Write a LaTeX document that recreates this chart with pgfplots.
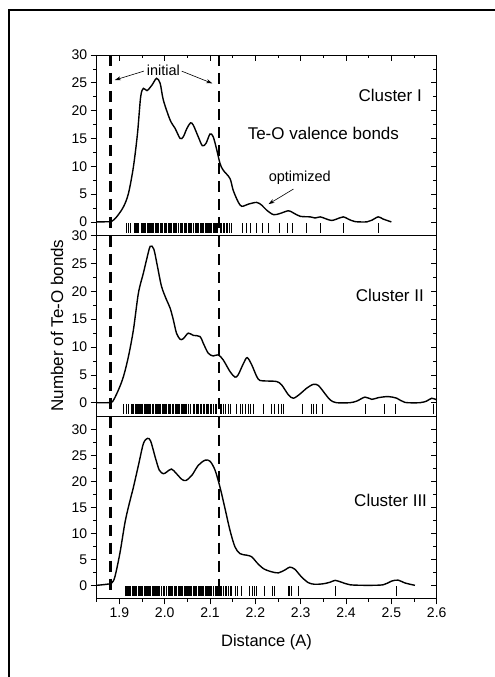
\documentclass[border=0pt]{standalone}
\usepackage{fontspec}
\setmainfont{Liberation Sans}
\usepackage{pgfplots}
\pgfplotsset{compat=1.18}
\usetikzlibrary{arrows.meta}
\begin{document}
\begin{tikzpicture}
\useasboundingbox (0pt,0pt) rectangle (495pt,677pt);
\draw[line width=1.5pt] (9pt,0pt) -- (9pt,667pt) -- (495pt,667pt);
\tikzset{
  ann/.style={font=\fontsize{14.5}{16}\selectfont, inner sep=0pt},
  clab/.style={font=\fontsize{17}{19}\selectfont, inner sep=0pt},
  arr/.style={-{Stealth[length=6pt,width=4pt]}, line width=0.6pt}
}
\pgfplotsset{
  panel/.style={scale only axis, width=340pt, xmin=1.85, xmax=2.6, anchor=north west,
    axis line style={line width=0.9pt}, clip=false,
    /pgf/number format/assume math mode=true,
    ticklabel style={font=\fontsize{14}{16}\selectfont},
    ytick={0,5,...,30}, minor ytick={2.5,7.5,12.5,17.5,22.5,27.5},
    every tick/.style={black, line width=0.7pt},
    major tick length=6pt, minor tick length=3.5pt},
  mainax/.style={panel, ytick pos=left, tick align=outside},
  overax/.style={panel, ytick pos=right, tick align=inside, yticklabels={}},
  curve/.style={black, line width=1.4pt, smooth, tension=0.5, mark=none},
  rug/.style={only marks, mark=|, mark size=5pt, mark options={line width=0.9pt, black}},
  dline/.style={black, line width=2.4pt, dash pattern=on 11pt off 7pt}
}
% ---------------- Panel 1
\begin{axis}[mainax, at={(96.7pt,622pt)}, height=180.8pt, ymin=-2.5, ymax=30, xtick=\empty]
\addplot[dline] coordinates {(1.88,30) (1.88,-2.5)};
\addplot[dline] coordinates {(2.12,30) (2.12,-2.5)};
\addplot[curve] coordinates {(1.85,0) (1.87,0.02) (1.883,0.1) (1.894,0.9) (1.909,2.7) (1.92,5.1) (1.931,9.9) (1.94,15.9) (1.947,22.5) (1.953,24.0) (1.961,23.6) (1.972,24.6) (1.982,25.8) (1.99,24.9) (1.997,21.9) (2.012,18.3) (2.023,16.8) (2.034,15.0) (2.041,15.3) (2.049,16.8) (2.057,17.8) (2.063,17.4) (2.074,15.3) (2.083,13.7) (2.091,14.1) (2.1,15.8) (2.107,15.3) (2.115,12.9) (2.122,10.5) (2.129,9.3) (2.144,7.8) (2.151,5.7) (2.162,3.6) (2.17,2.8) (2.185,3.2) (2.203,3.5) (2.214,3.0) (2.225,2.1) (2.24,1.3) (2.254,1.5) (2.273,2.0) (2.284,1.6) (2.299,1.0) (2.321,0.9) (2.332,0.7) (2.343,0.9) (2.354,0.6) (2.368,0.25) (2.379,0.5) (2.394,0.9) (2.405,0.5) (2.42,0.05) (2.446,0) (2.457,0.3) (2.471,0.9) (2.482,0.5) (2.5,0)};
\addplot[rug] coordinates {(1.9146,-1.15) (1.9197,-1.15) (1.925,-1.15)
(1.9323,-1.15) (1.9345,-1.15) (1.937,-1.15) (1.9395,-1.15) (1.9418,-1.15)
(1.9493,-1.15) (1.9515,-1.15) (1.954,-1.15) (1.9562,-1.15) (1.9585,-1.15) (1.961,-1.15) (1.9632,-1.15) (1.9655,-1.15) (1.968,-1.15) (1.9703,-1.15) (1.9728,-1.15) (1.975,-1.15)
(1.9786,-1.15) (1.981,-1.15) (1.9835,-1.15) (1.986,-1.15) (1.9896,-1.15)
(1.9934,-1.15) (1.996,-1.15) (1.9985,-1.15) (2.0007,-1.15) (2.0044,-1.15)
(2.008,-1.15) (2.0105,-1.15) (2.013,-1.15) (2.0155,-1.15)
(2.019,-1.15) (2.0215,-1.15) (2.024,-1.15) (2.0265,-1.15) (2.03,-1.15) (2.0338,-1.15)
(2.0375,-1.15) (2.04,-1.15) (2.0425,-1.15) (2.045,-1.15) (2.0485,-1.15)
(2.052,-1.15) (2.0545,-1.15) (2.057,-1.15) (2.06,-1.15) (2.063,-1.15)
(2.0668,-1.15) (2.069,-1.15) (2.0715,-1.15) (2.074,-1.15) (2.0779,-1.15)
(2.0816,-1.15) (2.084,-1.15) (2.0865,-1.15) (2.089,-1.15) (2.0915,-1.15) (2.094,-1.15) (2.0965,-1.15) (2.099,-1.15) (2.1015,-1.15) (2.104,-1.15) (2.1065,-1.15) (2.109,-1.15) (2.111,-1.15)
(2.1147,-1.15) (2.117,-1.15) (2.122,-1.15)
(2.1258,-1.15) (2.129,-1.15) (2.132,-1.15) (2.136,-1.15) (2.139,-1.15) (2.143,-1.15) (2.1478,-1.15)
(2.172,-1.15) (2.181,-1.15) (2.19,-1.15) (2.203,-1.15) (2.215,-1.15) (2.229,-1.15) (2.254,-1.15) (2.271,-1.15) (2.282,-1.15) (2.313,-1.15) (2.343,-1.15) (2.394,-1.15) (2.471,-1.15)};
\node[clab, anchor=base east] at (axis cs:2.5676,21.7) {Cluster I};
\node[clab, anchor=base] at (axis cs:2.35,14.8) {Te-O valence bonds};
\node[ann, anchor=base] at (axis cs:1.997,26.3) {initial};
\draw[arr] (axis cs:1.954,27.1) -- (axis cs:1.890,25.5);
\draw[arr] (axis cs:2.0375,27.1) -- (axis cs:2.105,24.9);
\node[ann, anchor=base] at (axis cs:2.298,7.3) {optimized};
\draw[arr] (axis cs:2.284,5.9) -- (axis cs:2.229,3.2);
\end{axis}
\begin{axis}[overax, at={(96.7pt,622pt)}, height=180.8pt, ymin=-2.5, ymax=30,
  xtick pos=right, xtick={1.9,2.0,2.1,2.2,2.3,2.4,2.5,2.6}, minor xtick={1.85,1.95,2.05,2.15,2.25,2.35,2.45,2.55}, xticklabels={}]
\end{axis}
% ---------------- Panel 2
\begin{axis}[mainax, at={(96.7pt,441.2pt)}, height=180.8pt, ymin=-2.5, ymax=30, xtick=\empty]
\addplot[dline] coordinates {(1.88,30) (1.88,-2.5)};
\addplot[dline] coordinates {(2.12,30) (2.12,-2.5)};
\addplot[curve] coordinates {(1.85,0) (1.875,0) (1.885,0.2) (1.898,2.3) (1.909,4.7) (1.92,8.3) (1.931,13.1) (1.942,19.7) (1.953,23.3) (1.96,25.7) (1.968,28.1) (1.976,27.6) (1.984,24.5) (1.993,20.9) (2.004,18.5) (2.012,17.0) (2.019,14.9) (2.026,12.5) (2.034,11.4) (2.041,11.5) (2.052,12.5) (2.063,12.1) (2.078,11.9) (2.085,10.7) (2.096,8.9) (2.107,8.4) (2.118,8.6) (2.129,7.7) (2.144,5.6) (2.155,4.6) (2.162,5.0) (2.174,7.1) (2.182,8.1) (2.192,6.8) (2.203,4.7) (2.21,4.0) (2.225,3.9) (2.247,3.8) (2.258,3.2) (2.273,1.4) (2.284,0.8) (2.299,1.6) (2.313,2.6) (2.328,3.3) (2.339,3.1) (2.35,2.0) (2.365,0.5) (2.379,0) (2.409,0) (2.424,0.3) (2.442,1.0) (2.457,0.6) (2.471,0.9) (2.493,1.1) (2.512,0.8) (2.53,0.05) (2.563,0) (2.578,0.3) (2.589,0.8) (2.6,0.5)};
\addplot[rug] coordinates {(1.910,-1.1) (1.915,-1.1) (1.920,-1.1)
(1.927,-1.1) (1.9295,-1.1) (1.932,-1.1) (1.9345,-1.1) (1.937,-1.1) (1.9395,-1.1) (1.942,-1.1) (1.9445,-1.1) (1.947,-1.1) (1.9495,-1.1) (1.952,-1.1) (1.9545,-1.1) (1.957,-1.1) (1.9595,-1.1) (1.962,-1.1) (1.9645,-1.1) (1.967,-1.1) (1.9695,-1.1) (1.972,-1.1) (1.975,-1.1)
(1.979,-1.1) (1.9815,-1.1) (1.984,-1.1) (1.9865,-1.1) (1.989,-1.1) (1.9915,-1.1) (1.994,-1.1) (1.9965,-1.1) (1.999,-1.1) (2.0015,-1.1) (2.004,-1.1)
(2.008,-1.1) (2.0105,-1.1) (2.013,-1.1) (2.016,-1.1) (2.019,-1.1) (2.023,-1.1)
(2.026,-1.1) (2.0285,-1.1) (2.031,-1.1) (2.0335,-1.1) (2.036,-1.1) (2.0385,-1.1) (2.041,-1.1) (2.0435,-1.1) (2.046,-1.1) (2.049,-1.1)
(2.052,-1.1) (2.057,-1.1)
(2.063,-1.1) (2.066,-1.1) (2.069,-1.1) (2.072,-1.1) (2.075,-1.1) (2.078,-1.1)
(2.082,-1.1) (2.085,-1.1) (2.088,-1.1) (2.091,-1.1) (2.094,-1.1) (2.097,-1.1) (2.1,-1.1)
(2.104,-1.1) (2.108,-1.1) (2.111,-1.1) (2.115,-1.1)
(2.122,-1.1) (2.125,-1.1) (2.129,-1.1) (2.133,-1.1) (2.14,-1.1) (2.144,-1.1) (2.159,-1.1)
(2.166,-1.1) (2.172,-1.1) (2.178,-1.1) (2.184,-1.1) (2.19,-1.1) (2.196,-1.1)
(2.218,-1.1) (2.236,-1.1) (2.243,-1.1) (2.251,-1.1) (2.258,-1.1) (2.262,-1.1) (2.304,-1.1) (2.324,-1.1) (2.329,-1.1) (2.334,-1.1) (2.349,-1.1) (2.443,-1.1) (2.484,-1.1) (2.51,-1.1) (2.593,-1.1)};
\node[clab, anchor=base east] at (axis cs:2.572,18.1) {Cluster II};
\end{axis}
\begin{axis}[overax, at={(96.7pt,441.2pt)}, height=180.8pt, ymin=-2.5, ymax=30, xtick=\empty]
\end{axis}
% ---------------- Panel 3
\begin{axis}[mainax, at={(96.7pt,260.4pt)}, height=181.7pt, ymin=-2.5, ymax=32.5,
  xtick pos=left, xtick={1.9,2.0,2.1,2.2,2.3,2.4,2.5,2.6}, xticklabels={1.9,2.0,2.1,2.2,2.3,2.4,2.5,2.6},
  minor xtick={1.85,1.95,2.05,2.15,2.25,2.35,2.45,2.55}]
\addplot[dline] coordinates {(1.88,32.5) (1.88,-1.5)};
\addplot[dline] coordinates {(2.12,32.5) (2.12,-1.5)};
\addplot[curve] coordinates {(1.85,0) (1.872,0.2) (1.883,0.45) (1.89,1.6) (1.901,6.1) (1.912,11.9) (1.92,15.1) (1.931,18.9) (1.942,23.1) (1.953,27.3) (1.962,28.3) (1.969,27.8) (1.979,24.7) (1.988,22.2) (1.997,21.5) (2.004,21.8) (2.015,22.4) (2.026,21.5) (2.038,20.4) (2.047,20.2) (2.06,21.2) (2.074,23.1) (2.089,24.1) (2.1,23.9) (2.111,22.2) (2.122,18.9) (2.133,14.8) (2.144,10.6) (2.155,7.4) (2.166,6.1) (2.181,5.8) (2.192,5.5) (2.203,4.4) (2.218,3.2) (2.236,2.6) (2.251,2.4) (2.266,3.0) (2.276,3.5) (2.287,3.1) (2.302,1.6) (2.317,0.5) (2.331,0.2) (2.35,0.3) (2.365,0.6) (2.376,0.95) (2.39,0.6) (2.409,0.1) (2.446,0) (2.482,0.1) (2.5,0.8) (2.515,1.0) (2.53,0.45) (2.552,0)};
\addplot[rug] coordinates {(1.9125,-1.15) (1.915,-1.15) (1.9175,-1.15) (1.92,-1.15) (1.923,-1.15) (1.9255,-1.15) (1.928,-1.15) (1.9305,-1.15) (1.933,-1.15) (1.9355,-1.15) (1.938,-1.15)
(1.942,-1.15) (1.9445,-1.15) (1.947,-1.15) (1.9495,-1.15) (1.952,-1.15) (1.9545,-1.15) (1.957,-1.15) (1.9595,-1.15) (1.962,-1.15) (1.9645,-1.15) (1.967,-1.15) (1.9695,-1.15) (1.972,-1.15) (1.9745,-1.15) (1.977,-1.15) (1.9795,-1.15) (1.982,-1.15) (1.9845,-1.15) (1.987,-1.15) (1.9895,-1.15) (1.993,-1.15)
(1.997,-1.15) (2.0005,-1.15) (2.004,-1.15)
(2.008,-1.15) (2.0105,-1.15) (2.013,-1.15) (2.0155,-1.15) (2.018,-1.15) (2.0205,-1.15) (2.023,-1.15) (2.026,-1.15)
(2.03,-1.15) (2.0325,-1.15) (2.035,-1.15) (2.0375,-1.15) (2.04,-1.15) (2.0425,-1.15) (2.045,-1.15) (2.0475,-1.15) (2.05,-1.15) (2.0525,-1.15) (2.055,-1.15) (2.0575,-1.15) (2.06,-1.15) (2.0625,-1.15) (2.065,-1.15) (2.068,-1.15) (2.071,-1.15)
(2.074,-1.15) (2.0765,-1.15) (2.079,-1.15) (2.0815,-1.15) (2.084,-1.15) (2.0865,-1.15) (2.089,-1.15) (2.0915,-1.15) (2.094,-1.15) (2.0965,-1.15) (2.099,-1.15) (2.1015,-1.15) (2.104,-1.15) (2.107,-1.15)
(2.111,-1.15) (2.1135,-1.15) (2.116,-1.15) (2.1185,-1.15) (2.121,-1.15) (2.1235,-1.15) (2.126,-1.15) (2.129,-1.15)
(2.133,-1.15) (2.1365,-1.15) (2.14,-1.15) (2.144,-1.15) (2.148,-1.15) (2.155,-1.15) (2.16,-1.15) (2.17,-1.15)
(2.188,-1.15) (2.193,-1.15) (2.198,-1.15) (2.203,-1.15)
(2.22,-1.15) (2.238,-1.15) (2.243,-1.15) (2.273,-1.15) (2.276,-1.15) (2.28,-1.15) (2.295,-1.15) (2.376,-1.15) (2.512,-1.15)};
\node[clab, anchor=base east] at (axis cs:2.579,15.1) {Cluster III};
\end{axis}
\begin{axis}[overax, at={(96.7pt,260.4pt)}, height=181.7pt, ymin=-2.5, ymax=32.5, xtick=\empty]
\end{axis}
% ---------------- labels
\node[font=\fontsize{17}{19}\selectfont, rotate=90, anchor=base, inner sep=0pt] at (63pt,351.5pt) {Number of Te-O bonds};
\node[font=\fontsize{16.5}{19}\selectfont, anchor=base, inner sep=0pt] at (266.5pt,30.3pt) {Distance (A)};
\end{tikzpicture}
\end{document}
